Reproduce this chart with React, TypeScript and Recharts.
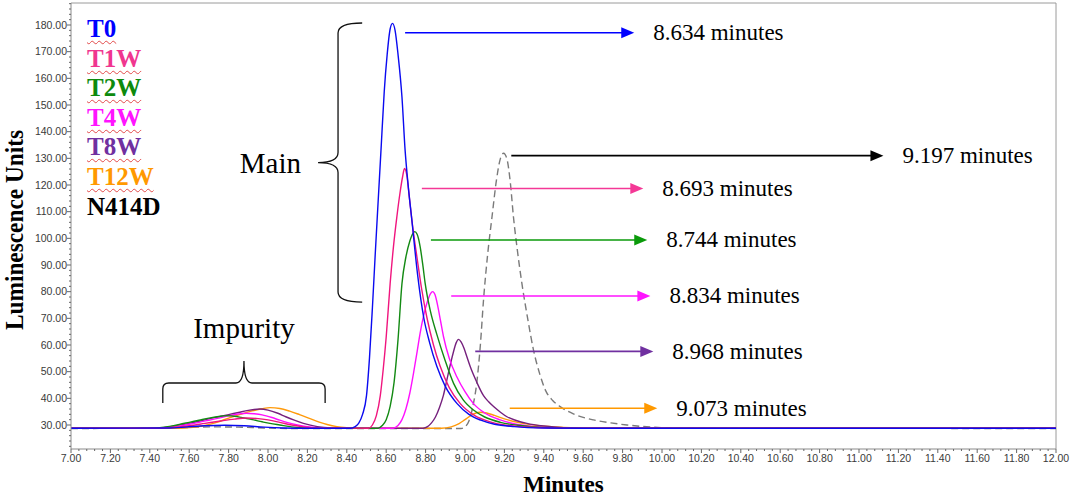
import React from 'react';
import { LineChart, Line, XAxis, YAxis, ReferenceLine, ReferenceArea, Label } from 'recharts';

// ---------- axis ticks ----------
const X_MAJOR_TICKS = [7.0, 7.2, 7.4, 7.6, 7.8, 8.0, 8.2, 8.4, 8.6, 8.8, 9.0, 9.2, 9.4, 9.6, 9.8, 10.0, 10.2, 10.4, 10.6, 10.8, 11.0, 11.2, 11.4, 11.6, 11.8, 12.0];
const Y_MAJOR_TICKS = [30, 40, 50, 60, 70, 80, 90, 100, 110, 120, 130, 140, 150, 160, 170, 180];
const X_DOMAIN: [number, number] = [7, 12];
const Y_DOMAIN: [number, number] = [21, 188.25];

// ---------- series (time in minutes, luminescence units) ----------
const T0_POINTS: [number, number][] = [
  [7.0, 28.8], [7.5, 28.9], [7.58, 29.2], [7.68, 29.7], [7.78, 29.9], [7.88, 29.7], [7.98, 29.2], [8.08, 28.9], [8.2, 28.8],
  [8.42, 28.8], [8.44, 29.3], [8.46, 30.6], [8.48, 34], [8.5, 41], [8.515, 55], [8.53, 74], [8.545, 95], [8.56, 115],
  [8.575, 135], [8.59, 155], [8.605, 169], [8.62, 178.5], [8.632, 180.6], [8.645, 178], [8.66, 169], [8.68, 153],
  [8.696, 133], [8.71, 121], [8.73, 107], [8.76, 86], [8.79, 70.5], [8.82, 61], [8.857, 52], [8.9, 44.5], [8.96, 38],
  [9.02, 34], [9.08, 31.8], [9.15, 30.3], [9.25, 29.4], [9.4, 28.9], [9.6, 28.8], [12.0, 28.8],
];
const T1W_POINTS: [number, number][] = [
  [7.0, 28.8], [7.45, 28.8], [7.52, 29.1], [7.6, 29.7], [7.68, 30.6], [7.76, 31.5], [7.83, 32.2], [7.89, 32.6], [7.95, 32.4],
  [8.0, 31.9], [8.06, 31.0], [8.12, 30.0], [8.18, 29.3], [8.26, 28.9], [8.51, 28.8], [8.53, 30], [8.55, 33.5], [8.57, 41],
  [8.585, 51], [8.6, 63], [8.62, 83], [8.637, 97], [8.654, 108], [8.67, 117], [8.683, 123], [8.693, 126.2], [8.705, 123.5],
  [8.718, 115], [8.735, 104], [8.756, 93], [8.78, 81], [8.806, 70.5], [8.84, 60], [8.874, 52], [8.92, 44], [8.976, 38],
  [9.05, 33.5], [9.128, 31.2], [9.2, 30], [9.3, 29.3], [9.45, 28.9], [9.6, 28.8], [12.0, 28.8],
];
const T2W_POINTS: [number, number][] = [
  [7.0, 28.8], [7.4, 28.8], [7.45, 29.0], [7.5, 29.5], [7.55, 30.2], [7.6, 31.0], [7.65, 31.8], [7.7, 32.6], [7.75, 33.2],
  [7.79, 33.5], [7.83, 33.3], [7.87, 32.7], [7.92, 32.0], [7.97, 31.2], [8.01, 30.6], [8.06, 30.0], [8.12, 29.3], [8.2, 28.9],
  [8.28, 28.8], [8.559, 28.8], [8.58, 29.8], [8.6, 32], [8.62, 37], [8.64, 46], [8.66, 62], [8.68, 83], [8.7, 93], [8.72, 99],
  [8.735, 101.8], [8.745, 102.5], [8.757, 101.5], [8.772, 97], [8.785, 90.5], [8.798, 83], [8.825, 72.5], [8.857, 64],
  [8.9, 54], [8.942, 45.6], [8.99, 39.5], [9.043, 35.6], [9.1, 33], [9.18, 31], [9.28, 29.8], [9.4, 29.1], [9.6, 28.8], [12.0, 28.8],
];
const T4W_POINTS: [number, number][] = [
  [7.0, 28.8], [7.42, 28.8], [7.48, 29.1], [7.55, 29.7], [7.6, 30.3], [7.65, 31.0], [7.7, 31.8], [7.75, 32.6], [7.8, 33.4],
  [7.85, 34.1], [7.89, 34.4], [7.93, 34.2], [7.97, 33.8], [8.02, 32.8], [8.06, 31.8], [8.1, 30.9], [8.15, 30.0], [8.22, 29.2],
  [8.3, 28.8], [8.635, 28.8], [8.66, 29.8], [8.68, 32], [8.7, 36], [8.72, 42], [8.74, 50], [8.757, 57.5], [8.772, 64.4],
  [8.79, 71], [8.81, 76.5], [8.825, 79.3], [8.836, 80], [8.848, 78.8], [8.862, 74.5], [8.876, 69], [8.891, 63.1], [8.92, 55],
  [8.959, 48], [9.0, 42.5], [9.043, 38], [9.1, 34.5], [9.179, 31.9], [9.26, 30.3], [9.36, 29.4], [9.5, 28.9], [9.7, 28.8], [12.0, 28.8],
];
const T8W_POINTS: [number, number][] = [
  [7.0, 28.8], [7.4, 28.8], [7.45, 28.9], [7.5, 29.3], [7.55, 29.9], [7.6, 30.6], [7.65, 31.4], [7.7, 32.3], [7.75, 33.1],
  [7.8, 33.9], [7.85, 34.7], [7.9, 35.5], [7.96, 36.0], [8.0, 35.6], [8.05, 34.4], [8.09, 33.1], [8.13, 31.9], [8.18, 30.6],
  [8.25, 29.4], [8.32, 28.9], [8.4, 28.8], [8.788, 28.8], [8.81, 29.4], [8.83, 30.8], [8.85, 33], [8.87, 36.5], [8.89, 41],
  [8.908, 46.9], [8.925, 52.5], [8.94, 57], [8.955, 60.8], [8.967, 62.1], [8.98, 61.2], [8.995, 58.8], [9.01, 55.5],
  [9.026, 52], [9.06, 46], [9.094, 41], [9.12, 38.7], [9.145, 36.9], [9.18, 34.8], [9.213, 33.1], [9.26, 31.7], [9.314, 30.6],
  [9.4, 29.6], [9.5, 29.0], [9.65, 28.8], [12.0, 28.8],
];
const T12W_POINTS: [number, number][] = [
  [7.0, 28.8], [7.55, 28.8], [7.62, 29.1], [7.68, 29.8], [7.74, 31.0], [7.8, 32.6], [7.86, 34.0], [7.92, 35.3], [7.97, 36.1],
  [8.01, 36.5], [8.06, 36.2], [8.11, 35.2], [8.16, 33.9], [8.21, 32.5], [8.26, 31.1], [8.3, 30.2], [8.35, 29.4], [8.4, 29.0],
  [8.45, 28.8], [8.88, 28.8], [8.93, 29.3], [8.97, 30.5], [9.0, 32], [9.04, 34], [9.073, 34.8], [9.11, 34.5], [9.15, 33.6],
  [9.2, 32.3], [9.28, 30.8], [9.38, 29.7], [9.5, 29.1], [9.65, 28.8], [12.0, 28.8],
];
const N414D_POINTS: [number, number][] = [
  [7.0, 28.7], [7.5, 28.8], [7.6, 29.1], [7.72, 29.3], [7.85, 29.2], [7.98, 28.9], [8.1, 28.7], [8.98, 28.7], [9.0, 29.3],
  [9.02, 31.5], [9.04, 37], [9.06, 46], [9.078, 60], [9.094, 76.9], [9.115, 94], [9.137, 108], [9.16, 122], [9.18, 130],
  [9.196, 131.9], [9.212, 130], [9.23, 121], [9.246, 108], [9.265, 96], [9.289, 83], [9.318, 70], [9.348, 58], [9.38, 49],
  [9.41, 42.8], [9.445, 39.2], [9.483, 36.9], [9.55, 34.2], [9.653, 31.9], [9.74, 30.8], [9.822, 30], [9.95, 29.2],
  [10.1, 28.8], [12.0, 28.7],
];

// retention times of the main peaks (minutes)
const PEAK_TIMES = [8.634, 8.693, 8.744, 8.834, 8.968, 9.073, 9.197];

const SERIES = [
  { name: 'T0', points: T0_POINTS, line: '#0a0af0', legend: '#0000ff', squiggle: true },
  { name: 'T1W', points: T1W_POINTS, line: '#f0157e', legend: '#f0368f', squiggle: true },
  { name: 'T2W', points: T2W_POINTS, line: '#138a13', legend: '#0d8a0d', squiggle: true },
  { name: 'T4W', points: T4W_POINTS, line: '#ff10ff', legend: '#ff14ff', squiggle: true },
  { name: 'T8W', points: T8W_POINTS, line: '#75207d', legend: '#7030a0', squiggle: true },
  { name: 'T12W', points: T12W_POINTS, line: '#ff9a0a', legend: '#ff9900', squiggle: true },
  { name: 'N414D', points: N414D_POINTS, line: '#7a7a7a', legend: '#000000', squiggle: false, dash: '7 4' },
];

// annotation arrows (data coordinates): level, start, tip
const ARROWS = [
  { color: '#0000ff', y: 177.1, x1: 8.696, x2: 9.859, peak: PEAK_TIMES[0] },
  { color: '#f43896', y: 118.7, x1: 8.781, x2: 9.905, peak: PEAK_TIMES[1] },
  { color: '#0a9a0a', y: 99.4, x1: 8.827, x2: 9.925, peak: PEAK_TIMES[2] },
  { color: '#ff14ff', y: 78.4, x1: 8.93, x2: 9.941, peak: PEAK_TIMES[3] },
  { color: '#7030a0', y: 57.6, x1: 9.052, x2: 9.956, peak: PEAK_TIMES[4] },
  { color: '#ff9900', y: 36.3, x1: 9.227, x2: 9.976, peak: PEAK_TIMES[5] },
  { color: '#000000', y: 131.0, x1: 9.235, x2: 11.124, peak: PEAK_TIMES[6] },
];

const SERIF = '"Liberation Serif", "Times New Roman", serif';
const SANS = '"Liberation Sans", Arial, sans-serif';

const X_ALL_TICKS = Array.from({ length: 126 }, (_, i) => Math.round((7 + i * 0.04) * 100) / 100);
const Y_ALL_TICKS = Array.from({ length: 84 }, (_, i) => 22 + i * 2);

const isXMajor = (v: number) => X_MAJOR_TICKS.some((t) => Math.abs(t - v) < 1e-6);
const isYMajor = (v: number) => Y_MAJOR_TICKS.some((t) => Math.abs(t - v) < 1e-6);

const XTick = (props: any) => {
  const { x, y, payload } = props;
  const major = isXMajor(payload.value);
  return (
    <g>
      <line x1={x} y1={y} x2={x} y2={y + (major ? 4 : 2)} stroke="#666" strokeWidth={1} />
      {major && (
        <text x={x} y={y + 13} textAnchor="middle" fontFamily={SANS} fontSize={10.5} fill="#3a3a3a">
          {Number(payload.value).toFixed(2)}
        </text>
      )}
    </g>
  );
};

const YTick = (props: any) => {
  const { x, y, payload } = props;
  const major = isYMajor(payload.value);
  return (
    <g>
      <line x1={x} y1={y} x2={x - (major ? 4 : 2)} y2={y} stroke="#666" strokeWidth={1} />
      {major && (
        <text x={x - 4} y={y + 3.7} textAnchor="end" fontFamily={SANS} fontSize={10.5} fill="#3a3a3a">
          {Number(payload.value).toFixed(2)}
        </text>
      )}
    </g>
  );
};

const arrowShape = (color: string, label: string) => (props: any) => {
  const { x1, y1, x2, y2 } = props;
  const head = 13;
  return (
    <g>
      <line x1={x1} y1={y1} x2={x2 - head + 1} y2={y2} stroke={color} strokeWidth={1.6} />
      <polygon points={`${x2 - head},${y2 - 5.5} ${x2},${y2} ${x2 - head},${y2 + 5.5}`} fill={color} />
      <text x={x2 + 19} y={y2 + 7.5} fontFamily={SERIF} fontSize={23} fill="#000">
        {label}
      </text>
    </g>
  );
};

const mainBrace = (props: any) => {
  const { x, y, width, height } = props;
  const left = x;
  const right = x + width;
  const spine = x + 20;
  const top = y;
  const bottom = y + height;
  const mid = y + height / 2;
  const d = `M ${right} ${top} Q ${spine} ${top} ${spine} ${top + 10} L ${spine} ${mid - 10} Q ${spine} ${mid} ${left} ${mid} Q ${spine} ${mid} ${spine} ${mid + 10} L ${spine} ${bottom - 10} Q ${spine} ${bottom} ${right} ${bottom}`;
  return (
    <g>
      <path d={d} fill="none" stroke="#111" strokeWidth={1.3} />
      <text x={left - 17} y={mid + 10.5} textAnchor="end" fontFamily={SERIF} fontSize={29} fill="#000">
        Main
      </text>
    </g>
  );
};

const impurityBrace = (props: any) => {
  const { x, y, width, height } = props;
  const L = x;
  const R = x + width;
  const T = y;
  const B = y + height;
  const hy = B - 20;
  const cx = x + width / 2;
  const d = `M ${L} ${B} L ${L} ${hy + 6} Q ${L} ${hy} ${L + 6} ${hy} L ${cx - 8} ${hy} Q ${cx} ${hy} ${cx} ${T} Q ${cx} ${hy} ${cx + 8} ${hy} L ${R - 6} ${hy} Q ${R} ${hy} ${R} ${hy + 6} L ${R} ${B}`;
  return (
    <g>
      <path d={d} fill="none" stroke="#111" strokeWidth={1.3} />
      <text x={cx} y={T - 23} textAnchor="middle" fontFamily={SERIF} fontSize={29} fill="#000">
        Impurity
      </text>
    </g>
  );
};

const YTitle = (props: any) => {
  const vb = props.viewBox || { x: 0, y: 3, width: 71, height: 446 };
  const cx = vb.x + 23;
  const cy = vb.y + vb.height / 2 + 4;
  return (
    <text
      x={cx}
      y={cy}
      transform={`rotate(-90, ${cx}, ${cy})`}
      textAnchor="middle"
      fontFamily={SERIF}
      fontWeight="bold"
      fontSize={26}
      fill="#000"
      textLength={200}
      lengthAdjust="spacingAndGlyphs"
    >
      Luminescence Units
    </text>
  );
};

const XTitle = (props: any) => {
  const vb = props.viewBox || { x: 71, y: 449, width: 985, height: 49 };
  return (
    <text x={vb.x + vb.width / 2} y={vb.y + 43} textAnchor="middle" fontFamily={SERIF} fontWeight="bold" fontSize={23} fill="#000">
      Minutes
    </text>
  );
};

const LEGEND_ORDER = ['T0', 'T1W', 'T2W', 'T4W', 'T8W', 'T12W', 'N414D'];

export default function App() {
  const drawOrder = [...SERIES].reverse();
  return (
    <div style={{ position: 'absolute', left: 0, top: 0, width: 1072, height: 498, background: '#fff' }}>
      <LineChart width={1072} height={498} margin={{ top: 3, right: 16, bottom: 0, left: 0 }}>
        <XAxis
          dataKey="t"
          type="number"
          domain={X_DOMAIN}
          allowDataOverflow
          ticks={X_ALL_TICKS}
          interval={0}
          tickSize={0}
          tickMargin={0}
          tickLine={false}
          tick={<XTick />}
          axisLine={{ stroke: '#8a8a8a' }}
          height={49}
        >
          <Label content={<XTitle />} />
        </XAxis>
        <YAxis
          type="number"
          domain={Y_DOMAIN}
          allowDataOverflow
          ticks={Y_ALL_TICKS}
          interval={0}
          tickSize={0}
          tickMargin={0}
          tickLine={false}
          tick={<YTick />}
          axisLine={{ stroke: '#8a8a8a' }}
          width={71}
        >
          <Label content={<YTitle />} />
        </YAxis>
        <ReferenceLine y={Y_DOMAIN[1]} stroke="#9a9a9a" ifOverflow="visible" />
        <ReferenceLine x={X_DOMAIN[1]} stroke="#9a9a9a" ifOverflow="visible" />
        {drawOrder.map((s) => (
          <Line
            key={s.name}
            name={s.name}
            data={s.points.map(([t, v]) => ({ t, v }))}
            dataKey="v"
            type="monotone"
            stroke={s.line}
            strokeWidth={1.4}
            strokeDasharray={s.dash}
            dot={false}
            activeDot={false}
            isAnimationActive={false}
          />
        ))}
        <ReferenceArea x1={8.254} x2={8.478} y1={76.1} y2={180.75} ifOverflow="visible" shape={mainBrace} />
        <ReferenceArea x1={7.466} x2={8.29} y1={38.25} y2={54.0} ifOverflow="visible" shape={impurityBrace} />
        {ARROWS.map((a, i) => (
          <ReferenceLine
            key={i}
            segment={[{ x: a.x1, y: a.y }, { x: a.x2, y: a.y }]}
            ifOverflow="visible"
            shape={arrowShape(a.color, `${a.peak.toFixed(3)} minutes`)}
          />
        ))}
      </LineChart>
      <div style={{ position: 'absolute', left: 87, top: 14, pointerEvents: 'none' }}>
        {LEGEND_ORDER.map((n) => {
          const s = SERIES.find((q) => q.name === n)!;
          return (
            <div
              key={n}
              style={{
                fontFamily: SERIF,
                fontWeight: 'bold',
                fontSize: 25,
                lineHeight: '29.6px',
                color: s.legend,
                textDecorationLine: s.squiggle ? 'underline' : 'none',
                textDecorationStyle: 'wavy',
                textDecorationColor: '#e24a4a',
                textDecorationThickness: '1px',
                textUnderlineOffset: '3px',
                whiteSpace: 'nowrap',
              }}
            >
              {n}
            </div>
          );
        })}
      </div>
    </div>
  );
}
